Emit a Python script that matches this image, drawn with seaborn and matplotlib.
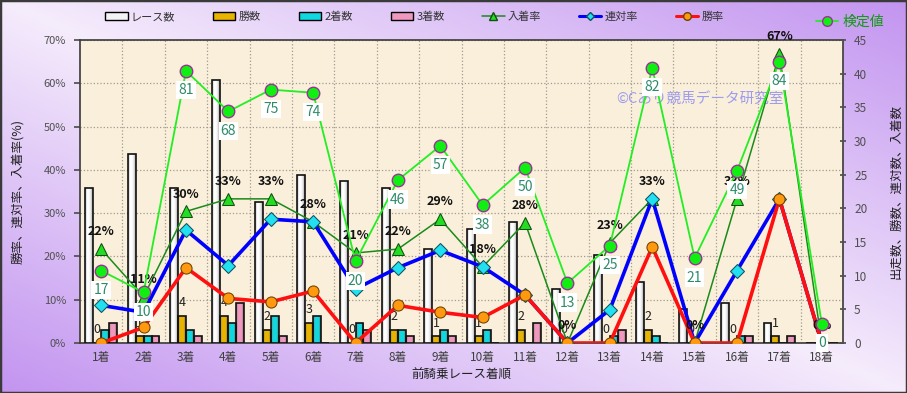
import numpy as np
import pandas as pd
import matplotlib
matplotlib.use('Agg')
import matplotlib.pyplot as plt
import seaborn as sns
from matplotlib.patches import Patch, Rectangle
from matplotlib.lines import Line2D
from matplotlib.colors import LinearSegmentedColormap

# data
categories = ['1着', '2着', '3着', '4着', '5着', '6着', '7着', '8着', '9着',
              '10着', '11着', '12着', '13着', '14着', '15着', '16着', '17着', '18着']
races = [23, 28, 23, 39, 21, 25, 24, 23, 14, 17, 18, 8, 13, 9, 5, 6, 3, 0]
wins = [0, 1, 4, 4, 2, 3, 0, 2, 1, 1, 2, 0, 0, 2, 0, 0, 1, 0]
seconds = [2, 1, 2, 3, 4, 4, 3, 2, 2, 2, 0, 0, 1, 1, 0, 1, 0, 0]
thirds = [3, 1, 1, 6, 1, 0, 2, 1, 1, 0, 3, 0, 2, 0, 0, 1, 1, 0]
place_rate = [21.7, 10.7, 30.4, 33.3, 33.3, 28.0, 20.8, 21.7, 28.6, 17.6, 27.8, 0,
              23.1, 33.3, 0, 33.3, 66.7, 0]
rentai_rate = [8.7, 7.1, 26.1, 17.9, 28.6, 28.0, 12.5, 17.4, 21.4, 17.6, 11.1, 0,
               7.7, 33.3, 0, 16.7, 33.3, 0]
win_rate = [0, 3.6, 17.4, 10.3, 9.5, 12.0, 0, 8.7, 7.1, 5.9, 11.1, 0,
            0, 22.2, 0, 0, 33.3, 0]
test_value = [17, 10, 81, 68, 75, 74, 20, 46, 57, 38, 50, 13, 25, 82, 21, 49, 84, 0]

bar_names = ['レース数', '勝数', '2着数', '3着数']
bar_colors = ['#f4f4f4', '#e8b400', '#10d8e0', '#f098c0']

sns.set_theme(style='white')
plt.rcParams['font.family'] = ['Noto Sans CJK JP', 'DejaVu Sans']

fig = plt.figure(figsize=(9.07, 3.93), dpi=100)

# background gradient
H, W = 393, 907
u = np.linspace(0, 1, W)[None, :]
v = np.linspace(0, 1, H)[:, None]
t = np.abs(u - v)
light = np.array([0xf5, 0xec, 0xfc]) / 255
purple = np.array([0xc2, 0x94, 0xf0]) / 255
img = light + (purple - light) * t[..., None]
bg = fig.add_axes([0, 0, 1, 1], zorder=-10)
bg.imshow(img, aspect='auto')
bg.axis('off')
fig.patches.append(Rectangle((0, 0), 1, 1, transform=fig.transFigure, fill=False,
                             ec='#3a3a3a', lw=2.5))

pos = [80 / 907, 50 / 393, 763 / 907, 303 / 393]

# percent axis (left) with grid and parchment
ax_pct = fig.add_axes(pos, zorder=0)
ax_pct.set_facecolor('#faefda')
ax_pct.set_xlim(-0.5, 17.5)
ax_pct.set_ylim(0, 70)
ax_pct.set_yticks(range(0, 71, 10))
ax_pct.set_yticklabels([f'{k}%' for k in range(0, 71, 10)], fontsize=8, color='#505050')
ax_pct.set_xticks(range(len(categories)))
ax_pct.set_xticks(np.arange(0.5, 17, 1), minor=True)
ax_pct.grid(True, axis='y', which='major', ls=':', color='#a09a90', lw=0.9)
ax_pct.grid(True, axis='x', which='minor', ls=':', color='#a09a90', lw=0.9)
ax_pct.tick_params(axis='y', length=4, direction='out', left=True, colors='#505050', pad=6)
ax_pct.tick_params(axis='x', which='both', length=0)
for s in ax_pct.spines.values():
    s.set_color('#404040')
ax_pct.set_ylabel('勝率、連対率、入着率(%)', fontsize=9, color='#202020', labelpad=14)
ax_pct.text(0.812, 0.802, '©Cあり競馬データ研究室', transform=ax_pct.transAxes,
            ha='center', va='center', fontsize=10.5, color='#9c9cf0', zorder=1)

# count bars (right axis)
ax_cnt = ax_pct.twinx()
ax_cnt.set_zorder(1)
ax_cnt.patch.set_visible(False)
df = pd.DataFrame({
    'cat': categories * 4,
    'series': [n for n in bar_names for _ in categories],
    'value': races + wins + seconds + thirds,
})
sns.barplot(data=df, x='cat', y='value', hue='series', hue_order=bar_names,
            palette=bar_colors, width=0.75, saturation=1, edgecolor='#111111',
            linewidth=1.2, legend=False, ax=ax_cnt)
ax_cnt.set_ylim(0, 45)
ax_cnt.set_xlim(-0.5, 17.5)
ax_cnt.set_yticks(range(0, 46, 5))
ax_cnt.set_yticklabels([str(k) for k in range(0, 46, 5)], fontsize=8.5, color='#505050')
ax_cnt.tick_params(axis='y', length=4, direction='inout', right=True, colors='#505050', pad=6)
ax_cnt.set_xlabel('')
ax_cnt.set_ylabel('出走数、勝数、連対数、入着数', fontsize=9, color='#202020', labelpad=16)
for s in ax_cnt.spines.values():
    s.set_visible(False)

# shaded gradient on each bar, outline kept on top
shade = {c: LinearSegmentedColormap.from_list(c, ['#8a7a60', c, c, c, '#6a5a50'])
         for c in bar_colors}
shade['#f4f4f4'] = LinearSegmentedColormap.from_list(
    'w', ['#a0a0a0', '#ffffff', '#ffffff', '#e4e4e4', '#909090'])
grad = np.linspace(0, 1, 64)[None, :]
n = len(categories)
for k, c in enumerate(bar_colors):
    for p in ax_cnt.patches[k * n:(k + 1) * n]:
        h = p.get_height()
        if h <= 0:
            continue
        x0 = p.get_x()
        im = ax_cnt.imshow(grad, extent=[x0, x0 + p.get_width(), 0, h], aspect='auto',
                           cmap=shade[c], zorder=1.5, interpolation='bilinear')
        im.set_clip_path(p)
        p.set_facecolor('none')
        p.set_zorder(1.6)
ax_cnt.set_xlim(-0.5, 17.5)
ax_cnt.set_ylim(0, 45)

# win count labels above the yellow bars
for p, w in zip(ax_cnt.patches[n:2 * n], wins):
    ax_cnt.annotate(str(w), (p.get_x() + p.get_width() / 2, w), xytext=(0, 9.5),
                    textcoords='offset points', ha='center', va='center',
                    fontsize=9, color='#222222', zorder=5)

# percentage lines
ax_line = fig.add_axes(pos, zorder=2, sharex=ax_pct)
ax_line.set_ylim(0, 70)
ax_line.axis('off')
ax_line.patch.set_visible(False)
xs = list(range(n))
sns.lineplot(x=xs, y=place_rate, ax=ax_line, color='#1a8a1a', lw=1.1, marker='^',
             markersize=9, markerfacecolor='#22dd22', markeredgecolor='#105010')
sns.lineplot(x=xs, y=rentai_rate, ax=ax_line, color='#0000ff', lw=2.6, marker='D',
             markersize=7, markerfacecolor='#22e0f0', markeredgecolor='#105060')
sns.lineplot(x=xs, y=win_rate, ax=ax_line, color='#ff1010', lw=2.6, marker='o',
             markersize=8, markerfacecolor='#ff9a10', markeredgecolor='#704000')
ax_line.set_xlim(-0.5, 17.5)
ax_line.set_ylim(0, 70)
for i, r in enumerate(place_rate):
    ax_line.annotate(f'{round(r)}%', (i, r), xytext=(0, 12.5), textcoords='offset points',
                     ha='center', va='center', fontsize=9, fontweight='bold',
                     color='#111111', annotation_clip=False)

# test values on their own hidden scale
ax_kt = fig.add_axes(pos, zorder=3, sharex=ax_pct)
ax_kt.patch.set_visible(False)
ax_kt.axis('off')
sns.lineplot(x=xs, y=test_value, ax=ax_kt, color='#22ee22', lw=1.3, marker='o',
             markersize=9, markerfacecolor='#11ee11', markeredgecolor='#993399',
             markeredgewidth=1.0)
ax_kt.set_xlim(-0.5, 17.5)
ax_kt.set_ylim(-6.2, 90.9)
for i, tv in enumerate(test_value):
    ax_kt.annotate(str(tv), (i, tv), xytext=(0, -14), textcoords='offset points',
                   ha='center', va='center', fontsize=10, color='#2e8b6a',
                   bbox=dict(boxstyle='square,pad=0.15', fc='white', ec='none'),
                   annotation_clip=False)

ax_pct.set_xticklabels(categories, fontsize=8.5, color='#404040')
ax_pct.tick_params(axis='x', pad=6)
ax_pct.set_xlabel('前騎乗レース着順', fontsize=9, color='#202020', labelpad=3)

# legends
handles = [Patch(facecolor=c, edgecolor='black') for c in bar_colors]
handles += [
    Line2D([0], [0], color='#1a8a1a', lw=1.1, marker='^', markersize=6,
           markerfacecolor='#22dd22', markeredgecolor='#105010'),
    Line2D([0], [0], color='#0000ff', lw=2.2, marker='D', markersize=4.5,
           markerfacecolor='#22e0f0', markeredgecolor='#105060'),
    Line2D([0], [0], color='#ff1010', lw=2.2, marker='o', markersize=5.5,
           markerfacecolor='#ff9a10', markeredgecolor='#704000'),
]
labels = bar_names + ['入着率', '連対率', '勝率']
fig.legend(handles, labels, loc='center', bbox_to_anchor=(0.457, 0.957), ncol=7,
           frameon=False, fontsize=8, handlelength=2.0, handleheight=0.7,
           handletextpad=0.3, columnspacing=3.4, labelcolor='#333333')
fig.legend([Line2D([0], [0], color='#22ee22', lw=1.3, marker='o', markersize=7,
                   markerfacecolor='#11ee11', markeredgecolor='#993399')],
           ['検定値'], loc='center', bbox_to_anchor=(0.937, 0.945), frameon=False,
           fontsize=10, handlelength=1.6, handletextpad=0.3, labelcolor='#119911')

fig.savefig('out.png', dpi=100)
